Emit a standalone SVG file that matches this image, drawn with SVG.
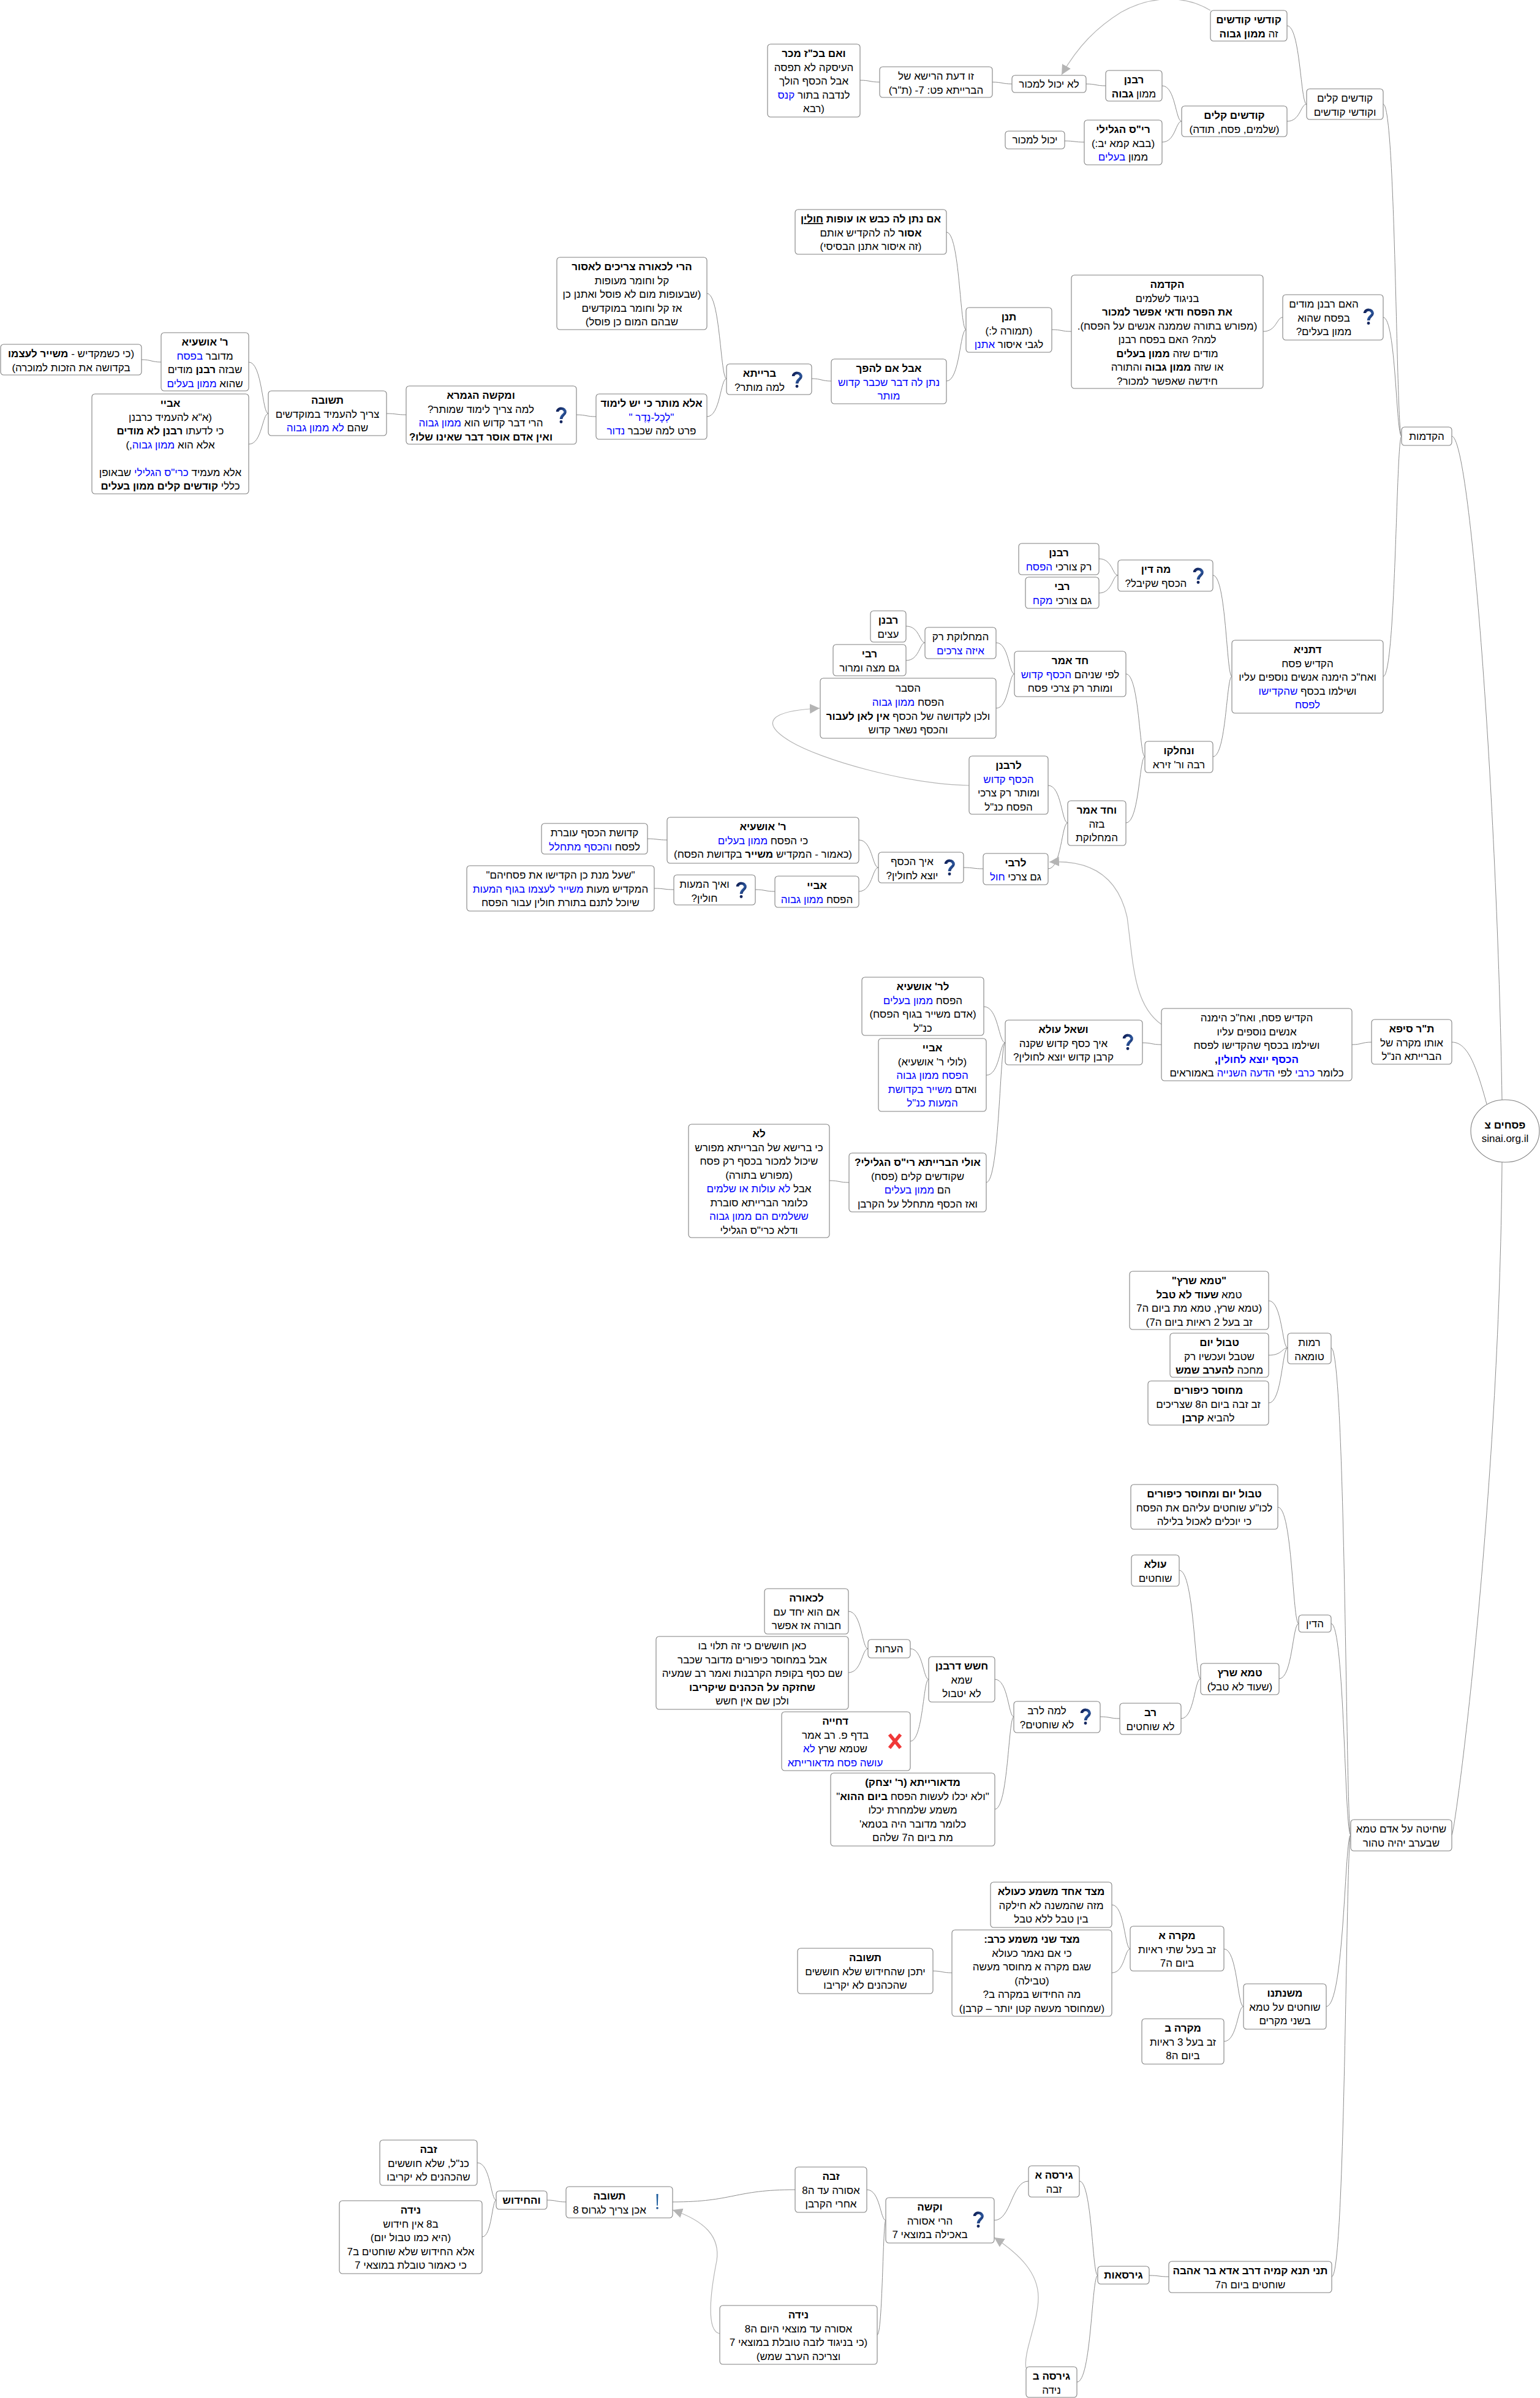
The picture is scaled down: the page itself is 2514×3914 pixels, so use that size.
<svg xmlns="http://www.w3.org/2000/svg" width="2514" height="3914" viewBox="0 0 2514 3914">
<style>
text{font-family:"Liberation Sans",Arial,sans-serif;font-size:17px;text-anchor:middle;direction:rtl;fill:#000}
.b{font-weight:bold}
.c{fill:#0000ff}
.u{text-decoration:underline}
.n rect,.n ellipse{fill:#fff;stroke:#808080;stroke-width:1.1}
#edges path{fill:none;stroke:#8c8c8c;stroke-width:1}
#links path{fill:none;stroke:#b4b4b4;stroke-width:1.2;marker-end:url(#ah)}
</style>
<defs>
<marker id="ah" markerUnits="userSpaceOnUse" markerWidth="18" markerHeight="18" refX="16" refY="8" orient="auto"><path d="M0,0 L16,8 L0,16 Z" fill="#b4b4b4"/></marker>
<linearGradient id="qg" x1="0" y1="0" x2="1" y2="1"><stop offset="0" stop-color="#101e54"/><stop offset="0.6" stop-color="#2a559c"/><stop offset="1" stop-color="#101e54"/></linearGradient>
<g id="q"><path d="M-6,-6 C-6,-13 7,-13 6.500,-5 C6,-1 0,0 0,6" fill="none" stroke="url(#qg)" stroke-width="4.500"/><circle cx="0" cy="10.500" r="2.400" fill="#14265f"/></g>
<g id="ex"><path d="M-1.500,-13 L1.500,-13 L0.800,6 L-0.800,6 Z" fill="#1f5f9f"/><circle cx="0" cy="10" r="1.800" fill="#1a4f90"/></g>
<g id="x"><path d="M-9,-11 L9,11 M9,-11 L-9,11" stroke="#f03838" stroke-width="5.500" fill="none"/></g>
</defs>
<g id="edges">
<path d="M2101 42C2123 42 2123 170 2133 170"/>
<path d="M2101 198C2123 198 2123 170 2133 170"/>
<path d="M1897 140C1919 140 1919 198 1929 198"/>
<path d="M1897 232C1919 232 1919 198 1929 198"/>
<path d="M1773 137C1789 137 1789 140 1805 140"/>
<path d="M1738 230C1754 230 1754 232 1770 232"/>
<path d="M1620 134C1636 134 1636 137 1652 137"/>
<path d="M1404 131C1420 131 1420 134 1436 134"/>
<path d="M1545 379C1567 379 1567 538 1577 538"/>
<path d="M1545 622C1567 622 1567 538 1577 538"/>
<path d="M1717 538C1733 538 1733 541 1749 541"/>
<path d="M2062 541C2084 541 2084 518 2094 518"/>
<path d="M2258 518C2279 518 2279 712 2288 712"/>
<path d="M2258 170C2279 170 2279 712 2288 712"/>
<path d="M2258 1104C2279 1104 2279 712 2288 712"/>
<path d="M1325 618C1341 618 1341 622 1357 622"/>
<path d="M1154 479C1176 479 1176 618 1186 618"/>
<path d="M1154 680C1176 680 1176 618 1186 618"/>
<path d="M941 677C957 677 957 680 973 680"/>
<path d="M631 675C647 675 647 677 663 677"/>
<path d="M406 591C428 591 428 675 438 675"/>
<path d="M406 725C428 725 428 675 438 675"/>
<path d="M231 587C247 587 247 591 263 591"/>
<path d="M1794 912C1816 912 1816 939 1825 939"/>
<path d="M1794 968C1816 968 1816 939 1825 939"/>
<path d="M1980 939C2002 939 2002 1104 2011 1104"/>
<path d="M1980 1235C2002 1235 2002 1104 2011 1104"/>
<path d="M1479 1022C1501 1022 1501 1049 1510 1049"/>
<path d="M1479 1078C1501 1078 1501 1049 1510 1049"/>
<path d="M1626 1049C1647 1049 1647 1100 1656 1100"/>
<path d="M1626 1156C1647 1156 1647 1100 1656 1100"/>
<path d="M1838 1100C1860 1100 1860 1235 1869 1235"/>
<path d="M1838 1343C1860 1343 1860 1235 1869 1235"/>
<path d="M1711 1282C1733 1282 1733 1343 1743 1343"/>
<path d="M1711 1418C1733 1418 1733 1343 1743 1343"/>
<path d="M1573 1416C1589 1416 1589 1418 1605 1418"/>
<path d="M1402 1371C1424 1371 1424 1416 1434 1416"/>
<path d="M1402 1455C1424 1455 1424 1416 1434 1416"/>
<path d="M1057 1369C1073 1369 1073 1371 1089 1371"/>
<path d="M1233 1452C1249 1452 1249 1455 1265 1455"/>
<path d="M1068 1450C1084 1450 1084 1452 1100 1452"/>
<path d="M1606 1643C1630 1643 1630 1702 1641 1702"/>
<path d="M1610 1755C1632 1755 1632 1702 1641 1702"/>
<path d="M1610 1930C1632 1930 1632 1702 1641 1702"/>
<path d="M1354 1927C1370 1927 1370 1930 1386 1930"/>
<path d="M1865 1702C1880 1702 1880 1705 1896 1705"/>
<path d="M2207 1705C2223 1705 2223 1701 2239 1701"/>
<path d="M2370 1701C2396 1701 2410 1740 2427 1802"/>
<path d="M2370 712C2400 712 2444 1300 2452 1795"/>
<path d="M2452 1897C2448 2450 2375 2995 2370 2995"/>
<path d="M2071 2123C2093 2123 2093 2200 2102 2200"/>
<path d="M2071 2212C2093 2212 2093 2200 2102 2200"/>
<path d="M2071 2290C2093 2290 2093 2200 2102 2200"/>
<path d="M2173 2200C2197 2200 2197 2995 2205 2995"/>
<path d="M2086 2460C2110 2460 2110 2650 2120 2650"/>
<path d="M2088 2740C2110 2740 2110 2650 2120 2650"/>
<path d="M2173 2650C2195 2650 2195 2995 2205 2995"/>
<path d="M1925 2563C1950 2563 1950 2740 1960 2740"/>
<path d="M1928 2805C1950 2805 1950 2740 1960 2740"/>
<path d="M1796 2802C1812 2802 1812 2805 1828 2805"/>
<path d="M1624 2741C1646 2741 1646 2802 1655 2802"/>
<path d="M1624 2953C1646 2953 1646 2802 1655 2802"/>
<path d="M1486 2691C1507 2691 1507 2741 1516 2741"/>
<path d="M1486 2842C1507 2842 1507 2741 1516 2741"/>
<path d="M1385 2630C1407 2630 1407 2691 1417 2691"/>
<path d="M1385 2730C1407 2730 1407 2691 1417 2691"/>
<path d="M2165 3275C2195 3275 2195 2995 2205 2995"/>
<path d="M2174 3716C2197 3716 2197 2995 2205 2995"/>
<path d="M1815 3109C1836 3109 1836 3181 1845 3181"/>
<path d="M1815 3220C1836 3220 1836 3181 1845 3181"/>
<path d="M1523 3217C1538 3217 1538 3220 1554 3220"/>
<path d="M1998 3181C2020 3181 2020 3275 2030 3275"/>
<path d="M1998 3332C2020 3332 2020 3275 2030 3275"/>
<path d="M1876 3714C1892 3714 1892 3716 1908 3716"/>
<path d="M1762 3560C1783 3560 1783 3714 1792 3714"/>
<path d="M1758 3888C1782 3888 1782 3714 1792 3714"/>
<path d="M1623 3624C1651 3624 1651 3560 1679 3560"/>
<path d="M1415 3574C1437 3574 1437 3624 1446 3624"/>
<path d="M1432 3811C1441 3811 1441 3624 1446 3624"/>
<path d="M1098 3594C1198 3594 1198 3574 1298 3574"/>
<path d="M893 3591C908 3591 908 3594 924 3594"/>
<path d="M779 3530C801 3530 801 3591 810 3591"/>
<path d="M787 3651C803 3651 803 3591 810 3591"/>
</g>
<g id="links">
<path d="M1976 17C1935 -8 1880 -8 1830 20C1790 45 1760 75 1733 122"/>
<path d="M1582 1282C1480 1280 1340 1240 1290 1210C1240 1180 1255 1160 1338 1156"/>
<path d="M1896 1672C1850 1640 1850 1570 1840 1497C1825 1430 1780 1403 1713 1407"/>
<path d="M1175 3809C1152 3805 1160 3740 1170 3690C1176 3650 1150 3625 1098 3607"/>
<path d="M1675 3865C1670 3840 1695 3790 1695 3750C1695 3710 1665 3680 1623 3652"/>
</g>
<g id="n1" class="n" transform="translate(1976,17)"><rect width="125" height="50" rx="5"/><text x="62.500" y="21" class="b">קודשי קודשים</text><text x="62.500" y="43.500">זה <tspan class="b">ממון גבוה</tspan></text></g>
<g id="n2" class="n" transform="translate(2133,145)"><rect width="125" height="50" rx="5"/><text x="62.500" y="21">קודשים קלים</text><text x="62.500" y="43.500">וקודשי קודשים</text></g>
<g id="n3" class="n" transform="translate(1929,173)"><rect width="172" height="50" rx="5"/><text x="86" y="21" class="b">קודשים קלים</text><text x="86" y="43.500">(שלמים, פסח, תודה)</text></g>
<g id="n4" class="n" transform="translate(1805,115)"><rect width="92" height="50" rx="5"/><text x="46" y="21" class="b">רבנן</text><text x="46" y="43.500">ממון <tspan class="b">גבוה</tspan></text></g>
<g id="n5" class="n" transform="translate(1770,196)"><rect width="127" height="73" rx="5"/><text x="63.500" y="21" class="b">רי"ס הגלילי</text><text x="63.500" y="43.500">(בבא קמא יב:)</text><text x="63.500" y="66">ממון <tspan class="c">בעלים</tspan></text></g>
<g id="n6" class="n" transform="translate(1652,123)"><rect width="121" height="28" rx="5"/><text x="60.500" y="20">לא יכול למכור</text></g>
<g id="n7" class="n" transform="translate(1641,214)"><rect width="97" height="29" rx="5"/><text x="48.500" y="20">יכול למכור</text></g>
<g id="n8" class="n" transform="translate(1436,109)"><rect width="184" height="50" rx="5"/><text x="92" y="21">זו דעת הרישא של</text><text x="92" y="43.500">הברייתא פט: 7- (ת"ר)</text></g>
<g id="n9" class="n" transform="translate(1253,72)"><rect width="151" height="119" rx="5"/><text x="75.500" y="21" class="b">ואם בכ"ז מכר</text><text x="75.500" y="43.500">העיסקה לא תפסה</text><text x="75.500" y="66">אבל הכסף הולך</text><text x="75.500" y="88.500">לנדבה בתור <tspan class="c">קנס</tspan></text><text x="75.500" y="111">(רבא</text></g>
<g id="n10" class="n" transform="translate(1298,342)"><rect width="247" height="73" rx="5"/><text x="123.500" y="21" class="b">אם נתן לה כבש או עופות <tspan class="u">חולין</tspan></text><text x="123.500" y="43.500"><tspan class="b">אסור</tspan> לה להקדיש אותם</text><text x="123.500" y="66">(זה איסור אתנן הבסיסי)</text></g>
<g id="n11" class="n" transform="translate(1577,502)"><rect width="140" height="73" rx="5"/><text x="70" y="21" class="b">תנן</text><text x="70" y="43.500">(תמורה ל:)</text><text x="70" y="66">לגבי איסור <tspan class="c">אתנן</tspan></text></g>
<g id="n12" class="n" transform="translate(1357,586)"><rect width="188" height="73" rx="5"/><text x="94" y="21" class="b">אבל אם להפך</text><text x="94" y="43.500" class="c">נתן לה דבר שכבר קדוש</text><text x="94" y="66" class="c">מותר</text></g>
<g id="n13" class="n" transform="translate(1186,594)"><rect width="139" height="50" rx="5"/><text x="54" y="21" class="b">ברייתא</text><text x="54" y="43.500">למה מותר?</text><use href="#q" x="115" y="26"/></g>
<g id="n14" class="n" transform="translate(1749,449)"><rect width="313" height="185" rx="5"/><text x="156.500" y="21" class="b">הקדמה</text><text x="156.500" y="43.500">בניגוד לשלמים</text><text x="156.500" y="66" class="b">את הפסח ודאי אפשר למכור</text><text x="156.500" y="88.500">(מפורש בתורה שממנה אנשים על הפסח).</text><text x="156.500" y="111">למה? האם בפסח רבנן</text><text x="156.500" y="133.500">מודים שזה <tspan class="b">ממון בעלים</tspan></text><text x="156.500" y="156">או שזה <tspan class="b">ממון גבוה</tspan>  והתורה</text><text x="156.500" y="178.500">חידשה שאפשר למכור?</text></g>
<g id="n15" class="n" transform="translate(2094,481)"><rect width="164" height="74" rx="5"/><text x="67" y="21">האם רבנן מודים</text><text x="67" y="43.500">בפסח שהוא</text><text x="67" y="66">ממון בעלים?</text><use href="#q" x="140" y="36"/></g>
<g id="n16" class="n" transform="translate(2288,697)"><rect width="82" height="30" rx="5"/><text x="41" y="21">הקדמות</text></g>
<g id="n17" class="n" transform="translate(909,420)"><rect width="245" height="118" rx="5"/><text x="122.500" y="21" class="b">הרי לכאורה צריכים לאסור</text><text x="122.500" y="43.500">קל וחומר מעופות</text><text x="122.500" y="66">(שבעופות מום לא פוסל ואתנן כן</text><text x="122.500" y="88.500">אז קל וחומר במוקדשים</text><text x="122.500" y="111">שבהם המום כן פוסל)</text></g>
<g id="n18" class="n" transform="translate(973,643)"><rect width="181" height="74" rx="5"/><text x="90.500" y="21" class="b">אלא מותר כי יש לימוד</text><text x="90.500" y="43.500" class="c">"לְכָל-נֶדֶר "</text><text x="90.500" y="66">פרט למה שכבר <tspan class="c">נדור</tspan></text></g>
<g id="n19" class="n" transform="translate(663,630)"><rect width="278" height="95" rx="5"/><text x="122" y="21" class="b">ומקשה הגמרא</text><text x="122" y="43.500">למה צריך לימוד שמותר?</text><text x="122" y="66">הרי דבר קדוש הוא <tspan class="c">ממון גבוה</tspan></text><text x="122" y="88.500" class="b">ואין אדם אוסר דבר שאינו שלו?</text><use href="#q" x="253" y="48"/></g>
<g id="n20" class="n" transform="translate(438,638)"><rect width="193" height="73" rx="5"/><text x="96.500" y="21" class="b">תשובה</text><text x="96.500" y="43.500">צריך להעמיד במוקדשים</text><text x="96.500" y="66">שהם <tspan class="c">לא ממון גבוה</tspan></text></g>
<g id="n21" class="n" transform="translate(263,543)"><rect width="143" height="95" rx="5"/><text x="71.500" y="21" class="b">ר' אושעיא</text><text x="71.500" y="43.500">מדובר <tspan class="c">בפסח</tspan></text><text x="71.500" y="66">שבזה <tspan class="b">רבנן</tspan> מודים</text><text x="71.500" y="88.500">שהוא <tspan class="c">ממון בעלים</tspan></text></g>
<g id="n22" class="n" transform="translate(1,562)"><rect width="230" height="50" rx="5"/><text x="115" y="21">(כי כשמקדיש - <tspan class="b">משייר לעצמו</tspan></text><text x="115" y="43.500">בקדושה את הזכות למוכרה)</text></g>
<g id="n23" class="n" transform="translate(150,643)"><rect width="256" height="163" rx="5"/><text x="128" y="21" class="b">אביי</text><text x="128" y="43.500">(א"א להעמיד כרבנן</text><text x="128" y="66">כי לדעתו <tspan class="b">רבנן לא מודים</tspan></text><text x="128" y="88.500">אלא הוא <tspan class="c">ממון גבוה</tspan>,)</text><text x="128" y="133.500">אלא מעמיד <tspan class="c">כרי"ס הגלילי</tspan>  שבאופן</text><text x="128" y="156">כללי <tspan class="b">קודשים קלים ממון בעלים</tspan></text></g>
<g id="n24" class="n" transform="translate(1663,887)"><rect width="131" height="51" rx="5"/><text x="65.500" y="21" class="b">רבנן</text><text x="65.500" y="43.500">רק צורכי <tspan class="c">הפסח</tspan></text></g>
<g id="n25" class="n" transform="translate(1674,942)"><rect width="120" height="51" rx="5"/><text x="60" y="21" class="b">רבי</text><text x="60" y="43.500">גם צורכי <tspan class="c">מקח</tspan></text></g>
<g id="n26" class="n" transform="translate(1825,914)"><rect width="155" height="51" rx="5"/><text x="62" y="21" class="b">מה דין</text><text x="62" y="43.500">הכסף שקיבל?</text><use href="#q" x="131" y="26"/></g>
<g id="n27" class="n" transform="translate(1421,997)"><rect width="58" height="51" rx="5"/><text x="29" y="21" class="b">רבנן</text><text x="29" y="43.500">עצים</text></g>
<g id="n28" class="n" transform="translate(1360,1052)"><rect width="119" height="51" rx="5"/><text x="59.500" y="21" class="b">רבי</text><text x="59.500" y="43.500">גם מצה ומרור</text></g>
<g id="n29" class="n" transform="translate(1510,1024)"><rect width="116" height="51" rx="5"/><text x="58" y="21">המחלוקת רק</text><text x="58" y="43.500" class="c">איזה צרכים</text></g>
<g id="n30" class="n" transform="translate(1656,1063)"><rect width="182" height="74" rx="5"/><text x="91" y="21" class="b">חד אמר</text><text x="91" y="43.500">לפי שניהם <tspan class="c">הכסף קדוש</tspan></text><text x="91" y="66">ומותר רק צרכי פסח</text></g>
<g id="n31" class="n" transform="translate(1339,1107)"><rect width="287" height="98" rx="5"/><text x="143.500" y="22">הסבר</text><text x="143.500" y="45">הפסח <tspan class="c">ממון גבוה</tspan></text><text x="143.500" y="67.500">ולכן לקדושה של הכסף <tspan class="b">אין לאן לעבור</tspan></text><text x="143.500" y="90">והכסף נשאר קדוש</text></g>
<g id="n32" class="n" transform="translate(2011,1045)"><rect width="247" height="119" rx="5"/><text x="123.500" y="21" class="b">דתניא</text><text x="123.500" y="43.500">הקדיש פסח</text><text x="123.500" y="66">ואח"כ הימנה אנשים נוספים עליו</text><text x="123.500" y="88.500">ושילמו בכסף <tspan class="c">שהקדישו</tspan></text><text x="123.500" y="111" class="c">לפסח</text></g>
<g id="n33" class="n" transform="translate(1869,1210)"><rect width="111" height="51" rx="5"/><text x="55.500" y="21" class="b">ונחלקו</text><text x="55.500" y="43.500">רבה ור' זירא</text></g>
<g id="n34" class="n" transform="translate(1582,1234)"><rect width="129" height="95" rx="5"/><text x="64.500" y="21" class="b">לרבנן</text><text x="64.500" y="43.500" class="c">הכסף קדוש</text><text x="64.500" y="66">ומותר רק צרכי</text><text x="64.500" y="88.500">הפסח כנ"ל</text></g>
<g id="n35" class="n" transform="translate(1743,1307)"><rect width="95" height="73" rx="5"/><text x="47.500" y="21" class="b">וחד אמר</text><text x="47.500" y="43.500">בזה</text><text x="47.500" y="66">המחלוקת</text></g>
<g id="n36" class="n" transform="translate(1605,1393)"><rect width="106" height="51" rx="5"/><text x="53" y="21" class="b">לרבי</text><text x="53" y="43.500">גם צרכי <tspan class="c">חול</tspan></text></g>
<g id="n37" class="n" transform="translate(1434,1391)"><rect width="139" height="50" rx="5"/><text x="55" y="21">איך הכסף</text><text x="55" y="43.500">יוצא לחולין?</text><use href="#q" x="116" y="25"/></g>
<g id="n38" class="n" transform="translate(1089,1334)"><rect width="313" height="75" rx="5"/><text x="156.500" y="21" class="b">ר' אושעיא</text><text x="156.500" y="43.500">כי הפסח <tspan class="c">ממון בעלים</tspan></text><text x="156.500" y="66">(כאמור - המקדיש <tspan class="b">משייר</tspan>  בקדושת הפסח)</text></g>
<g id="n39" class="n" transform="translate(884,1344)"><rect width="173" height="50" rx="5"/><text x="86.500" y="21">קדושת הכסף עוברת</text><text x="86.500" y="43.500">לפסח <tspan class="c">והכסף מתחלל</tspan></text></g>
<g id="n40" class="n" transform="translate(1265,1430)"><rect width="137" height="51" rx="5"/><text x="68.500" y="21" class="b">אביי</text><text x="68.500" y="43.500">הפסח <tspan class="c">ממון גבוה</tspan></text></g>
<g id="n41" class="n" transform="translate(1100,1428)"><rect width="133" height="49" rx="5"/><text x="50" y="21">ואיך המעות</text><text x="50" y="43.500">חולין?</text><use href="#q" x="110" y="25"/></g>
<g id="n42" class="n" transform="translate(762,1413)"><rect width="306" height="74" rx="5"/><text x="153" y="21">"שעל מנת כן הקדישו את פסחיהם"</text><text x="153" y="43.500">המקדיש מעות <tspan class="c">משייר לעצמו בגוף המעות</tspan></text><text x="153" y="66">שיוכל לתנם בתורת חולין עבור הפסח</text></g>
<g id="n43" class="n" transform="translate(1407,1595)"><rect width="199" height="95" rx="5"/><text x="99.500" y="21" class="b">לר' אושעיא</text><text x="99.500" y="43.500">הפסח <tspan class="c">ממון בעלים</tspan></text><text x="99.500" y="66">(אדם משייר בגוף הפסח)</text><text x="99.500" y="88.500">כנ"ל</text></g>
<g id="n44" class="n" transform="translate(1434,1695)"><rect width="176" height="119" rx="5"/><text x="88" y="21" class="b">אביי</text><text x="88" y="43.500">(לולי ר' אושעיא)</text><text x="88" y="66" class="c">הפסח ממון גבוה</text><text x="88" y="88.500">ואדם <tspan class="c">משייר בקדושת</tspan></text><text x="88" y="111" class="c">המעות כנ"ל</text></g>
<g id="n45" class="n" transform="translate(1641,1665)"><rect width="224" height="73" rx="5"/><text x="95" y="21" class="b">ושאל עולא</text><text x="95" y="43.500">איך כסף קדוש שקנה</text><text x="95" y="66">קרבן קדוש יוצא לחולין?</text><use href="#q" x="200" y="36"/></g>
<g id="n46" class="n" transform="translate(1896,1646)"><rect width="311" height="118" rx="5"/><text x="155.500" y="21">הקדיש פסח, ואח"כ הימנה</text><text x="155.500" y="43.500">אנשים נוספים עליו</text><text x="155.500" y="66">ושילמו בכסף שהקדישו לפסח</text><text x="155.500" y="88.500" class="b"><tspan class="c">הכסף יוצא לחולין</tspan>,</text><text x="155.500" y="111">כלומר <tspan class="c">כרבי</tspan>  לפי <tspan class="c">הדעה השנייה</tspan>  באמוראים</text></g>
<g id="n47" class="n" transform="translate(2239,1664)"><rect width="131" height="73" rx="5"/><text x="65.500" y="21" class="b">ת"ר סיפא</text><text x="65.500" y="43.500">אותו מקרה של</text><text x="65.500" y="66">הברייתא הנ"ל</text></g>
<g id="root" class="n"><ellipse cx="2457" cy="1846" rx="56" ry="51"/><text x="2457" y="1842" class="b">פסחים צ</text><text x="2457" y="1864">sinai.org.il</text></g>
<g id="n48" class="n" transform="translate(1124,1835)"><rect width="230" height="185" rx="5"/><text x="115" y="21" class="b">לא</text><text x="115" y="43.500">כי ברישא של הברייתא מפורש</text><text x="115" y="66">שיכול למכור בכסף רק פסח</text><text x="115" y="88.500">(מפורש בתורה)</text><text x="115" y="111">אבל <tspan class="c">לא עולות או שלמים</tspan></text><text x="115" y="133.500">כלומר הברייתא סוברת</text><text x="115" y="156" class="c">ששלמים הם ממון גבוה</text><text x="115" y="178.500">ודלא כרי"ס הגלילי</text></g>
<g id="n49" class="n" transform="translate(1386,1882)"><rect width="224" height="96" rx="5"/><text x="112" y="21" class="b">אולי הברייתא רי"ס הגלילי?</text><text x="112" y="43.500">שקודשים קלים (פסח)</text><text x="112" y="66">הם <tspan class="c">ממון בעלים</tspan></text><text x="112" y="88.500">ואז הכסף מתחלל על הקרבן</text></g>
<g id="n50" class="n" transform="translate(1844,2075)"><rect width="227" height="95" rx="5"/><text x="113.500" y="21" class="b">"טמא שרץ"</text><text x="113.500" y="43.500">טמא <tspan class="b">שעוד לא טבל</tspan></text><text x="113.500" y="66">(טמא שרץ, טמא מת ביום ה7</text><text x="113.500" y="88.500">זב בעל 2 ראיות ביום ה7)</text></g>
<g id="n51" class="n" transform="translate(1910,2176)"><rect width="161" height="72" rx="5"/><text x="80.500" y="21" class="b">טבול יום</text><text x="80.500" y="43.500">שטבל ועכשיו רק</text><text x="80.500" y="66">מחכה <tspan class="b">להערב שמש</tspan></text></g>
<g id="n52" class="n" transform="translate(1874,2254)"><rect width="197" height="72" rx="5"/><text x="98.500" y="21" class="b">מחוסר כיפורים</text><text x="98.500" y="43.500">זב זבה ביום ה8 שצריכים</text><text x="98.500" y="66">להביא <tspan class="b">קרבן</tspan></text></g>
<g id="n53" class="n" transform="translate(2102,2176)"><rect width="71" height="50" rx="5"/><text x="35.500" y="21">רמות</text><text x="35.500" y="43.500">טומאה</text></g>
<g id="n54" class="n" transform="translate(1846,2423)"><rect width="240" height="73" rx="5"/><text x="120" y="21" class="b">טבול יום ומחוסר כיפורים</text><text x="120" y="43.500">לכו"ע שוחטים עליהם את הפסח</text><text x="120" y="66">כי יוכלים לאכול בלילה</text></g>
<g id="n55" class="n" transform="translate(1847,2538)"><rect width="78" height="51" rx="5"/><text x="39" y="21" class="b">עולא</text><text x="39" y="43.500">שוחטים</text></g>
<g id="n56" class="n" transform="translate(2120,2636)"><rect width="53" height="28" rx="5"/><text x="26.500" y="20">הדין</text></g>
<g id="n57" class="n" transform="translate(1960,2715)"><rect width="128" height="51" rx="5"/><text x="64" y="21" class="b">טמא שרץ</text><text x="64" y="43.500">(שעוד לא טבל)</text></g>
<g id="n58" class="n" transform="translate(1828,2780)"><rect width="100" height="51" rx="5"/><text x="50" y="21" class="b">רב</text><text x="50" y="43.500">לא שוחטים</text></g>
<g id="n59" class="n" transform="translate(1655,2777)"><rect width="141" height="51" rx="5"/><text x="54" y="21">למה לרב</text><text x="54" y="43.500">לא שוחטים?</text><use href="#q" x="117" y="25"/></g>
<g id="n60" class="n" transform="translate(1516,2704)"><rect width="108" height="74" rx="5"/><text x="54" y="21" class="b">חשש דרבנן</text><text x="54" y="43.500">שמא</text><text x="54" y="66">לא יטבול</text></g>
<g id="n61" class="n" transform="translate(1417,2676)"><rect width="69" height="30" rx="5"/><text x="34.500" y="21">הערות</text></g>
<g id="n62" class="n" transform="translate(1248,2593)"><rect width="137" height="74" rx="5"/><text x="68.500" y="21" class="b">לכאורה</text><text x="68.500" y="43.500">אם הוא יחד עם</text><text x="68.500" y="66">חבורה אז אפשר</text></g>
<g id="n63" class="n" transform="translate(1071,2671)"><rect width="314" height="119" rx="5"/><text x="157" y="21">כאן חוששים כי זה תלוי בו</text><text x="157" y="43.500">אבל במחוסר כיפורים מדובר שכבר</text><text x="157" y="66">שם כסף בקופת הקרבנות ואמר רב שמעיה</text><text x="157" y="88.500" class="b">שחזקה על הכהנים שיקריבו</text><text x="157" y="111">ולכן שם אין חשש</text></g>
<g id="n64" class="n" transform="translate(1276,2794)"><rect width="210" height="96" rx="5"/><text x="87.500" y="21" class="b">דחייה</text><text x="87.500" y="43.500">בדף פ. רב אמר</text><text x="87.500" y="66">שטמא שרץ <tspan class="c">לא</tspan></text><text x="87.500" y="88.500" class="c">עושה פסח מדאורייתא</text><use href="#x" x="185" y="48"/></g>
<g id="n65" class="n" transform="translate(1356,2894)"><rect width="268" height="119" rx="5"/><text x="134" y="21" class="b">מדאורייתא (ר' יצחק)</text><text x="134" y="43.500">"ולא יכלו לעשות הפסח <tspan class="b">ביום ההוא</tspan>"</text><text x="134" y="66">משמע שלמחרת יכלו</text><text x="134" y="88.500">כלומר מדובר היה בטמא'</text><text x="134" y="111">מת ביום ה7 שלהם</text></g>
<g id="n66" class="n" transform="translate(1617,3072)"><rect width="198" height="74" rx="5"/><text x="99" y="21" class="b">מצד אחד משמע כעולא</text><text x="99" y="43.500">מזה שהמשנה לא חילקה</text><text x="99" y="66">בין טבל ללא טבל</text></g>
<g id="n67" class="n" transform="translate(1554,3150)"><rect width="261" height="141" rx="5"/><text x="130.500" y="21" class="b">מצד שני משמע כרב:</text><text x="130.500" y="43.500">כי אם נאמר כעולא</text><text x="130.500" y="66">שגם מקרה א מחוסר מעשה</text><text x="130.500" y="88.500">(טבילה)</text><text x="130.500" y="111">מה החידוש במקרה ב?</text><text x="130.500" y="133.500">(שמחוסר מעשה קטן יותר – קרבן)</text></g>
<g id="n68" class="n" transform="translate(1302,3180)"><rect width="221" height="74" rx="5"/><text x="110.500" y="21" class="b">תשובה</text><text x="110.500" y="43.500">יתכן שהחידוש שלא חוששים</text><text x="110.500" y="66">שהכהנים לא יקריבו</text></g>
<g id="n69" class="n" transform="translate(1845,3144)"><rect width="153" height="73" rx="5"/><text x="76.500" y="21" class="b">מקרה א</text><text x="76.500" y="43.500">זב בעל שתי ראיות</text><text x="76.500" y="66">ביום ה7</text></g>
<g id="n70" class="n" transform="translate(1864,3295)"><rect width="134" height="74" rx="5"/><text x="67" y="21" class="b">מקרה ב</text><text x="67" y="43.500">זב בעל 3 ראיות</text><text x="67" y="66">ביום ה8</text></g>
<g id="n71" class="n" transform="translate(2030,3238)"><rect width="135" height="74" rx="5"/><text x="67.500" y="21" class="b">משנתנו</text><text x="67.500" y="43.500">שוחטים על טמא</text><text x="67.500" y="66">בשני מקרים</text></g>
<g id="n72" class="n" transform="translate(2205,2970)"><rect width="165" height="51" rx="5"/><text x="82.500" y="21">שחיטה על אדם טמא</text><text x="82.500" y="43.500">שבערב יהיה טהור</text></g>
<g id="n73" class="n" transform="translate(1908,3691)"><rect width="266" height="51" rx="5"/><text x="133" y="21" class="b">תני תנא קמיה דרב אדא בר אהבה</text><text x="133" y="43.500">שוחטים ביום ה7</text></g>
<g id="n74" class="n" transform="translate(1792,3699)"><rect width="84" height="29" rx="5"/><text x="42" y="20" class="b">גירסאות</text></g>
<g id="n75" class="n" transform="translate(1679,3535)"><rect width="83" height="51" rx="5"/><text x="41.500" y="21" class="b">גירסה א</text><text x="41.500" y="43.500">זבה</text></g>
<g id="n76" class="n" transform="translate(1675,3863)"><rect width="83" height="50" rx="5"/><text x="41.500" y="21" class="b">גירסה ב</text><text x="41.500" y="43.500">נידה</text></g>
<g id="n77" class="n" transform="translate(1446,3587)"><rect width="177" height="74" rx="5"/><text x="72" y="21" class="b">וקשה</text><text x="72" y="43.500">הרי אסורה</text><text x="72" y="66">באכילה במוצאי 7</text><use href="#q" x="151" y="36"/></g>
<g id="n78" class="n" transform="translate(1298,3537)"><rect width="117" height="74" rx="5"/><text x="58.500" y="21" class="b">זבה</text><text x="58.500" y="43.500">אסורה עד ה8</text><text x="58.500" y="66">אחרי הקרבן</text></g>
<g id="n79" class="n" transform="translate(1175,3763)"><rect width="257" height="96" rx="5"/><text x="128.500" y="21" class="b">נידה</text><text x="128.500" y="43.500">אסורה עד מוצאי היום ה8</text><text x="128.500" y="66">(כי בניגוד לזבה טובלת במוצאי 7</text><text x="128.500" y="88.500">וצריכה הערב שמש)</text></g>
<g id="n80" class="n" transform="translate(924,3569)"><rect width="174" height="51" rx="5"/><text x="71" y="21" class="b">תשובה</text><text x="71" y="43.500">אכן צריך לגרוס 8</text><use href="#ex" x="149" y="25"/></g>
<g id="n81" class="n" transform="translate(810,3576)"><rect width="83" height="30" rx="5"/><text x="41.500" y="21" class="b">והחידוש</text></g>
<g id="n82" class="n" transform="translate(620,3493)"><rect width="159" height="74" rx="5"/><text x="79.500" y="21" class="b">זבה</text><text x="79.500" y="43.500">כנ"ל, שלא חוששים</text><text x="79.500" y="66">שהכהנים לא יקריבו</text></g>
<g id="n83" class="n" transform="translate(554,3592)"><rect width="233" height="119" rx="5"/><text x="116.500" y="21" class="b">נידה</text><text x="116.500" y="43.500">ב8 אין חידוש</text><text x="116.500" y="66">(היא כמו טבול יום)</text><text x="116.500" y="88.500">אלא החידוש שלא שוחטים ב7</text><text x="116.500" y="111">כי כאמור טובלת במוצאי 7</text></g>
</svg>
